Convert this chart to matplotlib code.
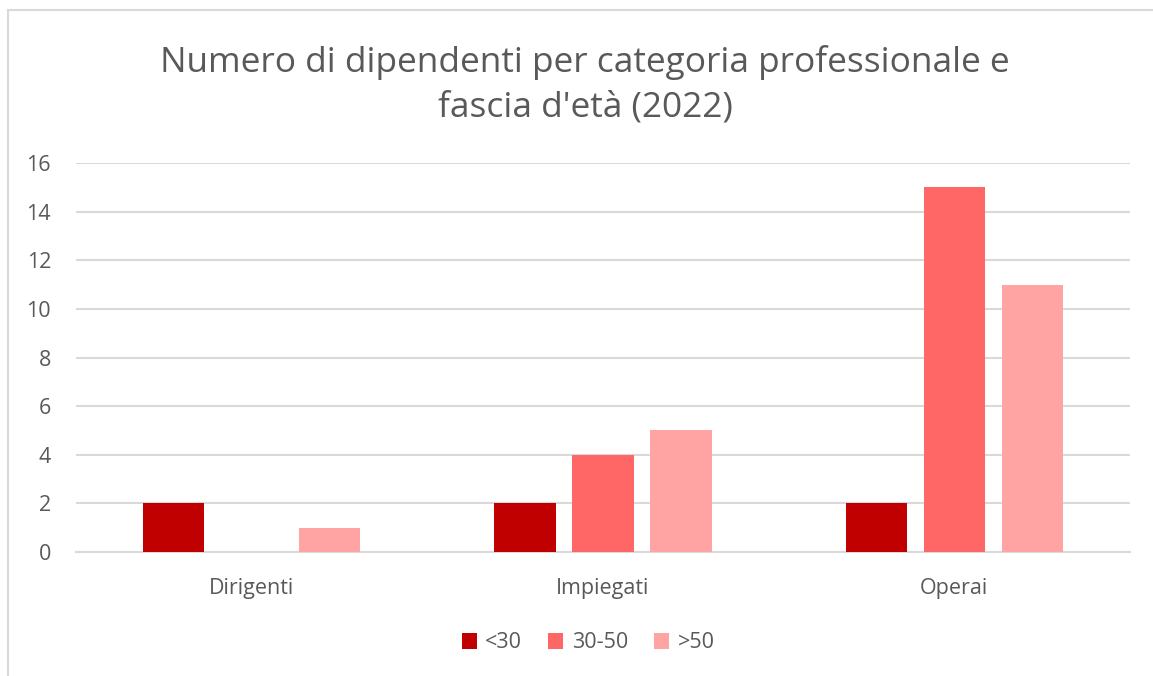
import numpy as np
import matplotlib
matplotlib.use("Agg")
import matplotlib.pyplot as plt
from matplotlib.patches import Rectangle

categorie = ["Dirigenti", "Impiegati", "Operai"]
fasce = ["<30", "30-50", ">50"]
sotto_30 = [2, 2, 2]
da_30_a_50 = [0, 4, 15]
sopra_50 = [1, 5, 11]
colori = ["#C00000", "#FF6666", "#FFA3A3"]

plt.rcParams['font.family'] = ['Open Sans', 'DejaVu Sans']
grigio = "#595959"

fig = plt.figure(figsize=(11.53, 6.76), dpi=100)
fig.patches.append(Rectangle((8/1153, -0.1), 1.2, 1 - 10/676 + 0.1, transform=fig.transFigure,
                             fill=False, edgecolor="#D9D9D9", linewidth=1.5))
ax = fig.add_axes([76/1153, 1 - 552/676, (1130 - 76)/1153, (552 - 163)/676])

x = np.arange(len(categorie))
larg = 0.174
passo = 0.222
serie = [sotto_30, da_30_a_50, sopra_50]
for i, (vals, col, lab) in enumerate(zip(serie, colori, fasce)):
    ax.bar(x + (i - 1) * passo, vals, width=larg, color=col, label=lab, zorder=3)

ax.set_xlim(-0.5, 2.5)
ax.set_ylim(0, 16)
ax.set_yticks(range(0, 17, 2))
ax.set_xticks(x)
ax.set_xticklabels(categorie)
ax.yaxis.grid(True, color="#D9D9D9", linewidth=1.5, zorder=0)
ax.set_axisbelow(True)
for s in ["top", "right", "left"]:
    ax.spines[s].set_visible(False)
ax.spines["bottom"].set_color("#D9D9D9")
ax.spines["bottom"].set_linewidth(1.5)
ax.tick_params(axis="both", length=0, labelsize=15.5, labelcolor=grigio)
ax.tick_params(axis="y", pad=18)
ax.tick_params(axis="x", pad=19)

fig.text(585/1153, 1 - 85/676, "Numero di dipendenti per categoria professionale e\nfascia d'età (2022)",
         ha="center", va="center", fontsize=25.4, color=grigio, linespacing=1.4)

ax.legend(loc="center", bbox_to_anchor=(588/1153, 1 - 643/676), bbox_transform=fig.transFigure,
          ncol=3, frameon=False, fontsize=15.5, labelcolor=grigio, handlelength=0.7, handleheight=0.7,
          handletextpad=0.4, columnspacing=1.2)

fig.savefig("out.png", dpi=100)
